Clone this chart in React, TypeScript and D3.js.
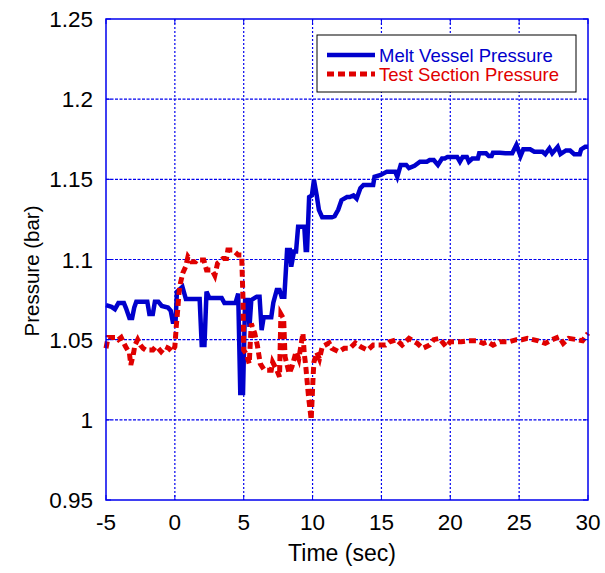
import React from "react";
import * as d3 from "d3";

const meltTime = [-5.0,-4.6,-4.35,-4.1,-3.7,-3.55,-3.3,-3.1,-2.95,-2.8,-2.0,-1.85,-1.6,-1.45,-1.2,-0.95,-0.5,-0.3,-0.15,0.05,0.15,0.55,0.8,1.8,1.95,2.15,2.3,2.5,3.4,3.6,4.4,4.6,4.75,4.95,5.1,5.3,5.42,5.55,5.95,6.15,6.3,6.45,7.0,7.15,7.4,7.6,7.75,7.95,8.15,8.35,8.45,8.65,8.8,8.95,9.4,9.5,9.6,9.75,9.95,10.1,10.3,10.46,10.7,11.4,11.6,11.86,12.1,12.5,12.7,12.97,13.2,13.47,13.7,14.4,14.5,14.95,15.4,16.0,16.15,16.4,16.8,17.0,17.4,17.8,18.3,18.5,18.8,19.1,19.4,19.6,19.8,20.5,20.7,20.9,21.2,21.35,21.6,22.0,22.1,22.6,22.8,23.0,23.1,23.6,24.0,24.5,24.8,25.1,25.3,25.8,26.1,26.7,26.9,27.2,27.4,27.8,28.0,28.4,28.7,29.0,29.4,29.5,29.8,30.0];
const meltPressure = [1.0716,1.0705,1.069,1.0728,1.0728,1.0697,1.0635,1.0635,1.07,1.0737,1.0737,1.066,1.066,1.0737,1.0737,1.071,1.07,1.068,1.0612,1.0612,1.0799,1.083,1.0753,1.0753,1.0466,1.0466,1.08,1.076,1.076,1.0728,1.0728,1.0787,1.0167,1.0167,1.0747,1.0747,1.058,1.0747,1.0768,1.0768,1.056,1.064,1.064,1.073,1.081,1.081,1.0768,1.0768,1.106,1.106,1.0955,1.105,1.105,1.1204,1.1204,1.106,1.106,1.139,1.14,1.1496,1.14,1.131,1.1263,1.1263,1.127,1.131,1.137,1.139,1.139,1.14,1.138,1.1444,1.1465,1.1465,1.1516,1.1527,1.1548,1.1548,1.1516,1.159,1.159,1.157,1.1585,1.161,1.161,1.162,1.162,1.159,1.163,1.163,1.164,1.164,1.161,1.164,1.164,1.161,1.163,1.163,1.1662,1.1662,1.1645,1.1645,1.1666,1.1666,1.1662,1.1662,1.1714,1.1645,1.1687,1.1687,1.1672,1.1672,1.1657,1.1693,1.1662,1.1703,1.1657,1.168,1.168,1.1657,1.1657,1.1687,1.1703,1.1703];

const testTime = [-5.0,-4.85,-4.3,-4.1,-3.9,-3.6,-3.3,-3.2,-3.0,-2.9,-2.7,-2.5,-2.3,-2.1,-1.6,-1.4,-1.2,-1.0,-0.7,-0.45,-0.2,0.0,0.1,0.2,0.3,0.4,0.57,0.78,0.95,1.2,1.5,1.6,2.1,2.3,2.7,2.9,3.1,3.5,3.75,3.85,4.2,4.6,4.85,4.95,5.0,5.2,5.4,5.55,5.8,6.0,6.2,6.5,7.0,7.1,7.4,7.6,7.7,7.9,8.0,8.3,8.5,8.8,9.0,9.3,9.4,9.5,9.7,9.9,10.05,10.1,10.3,10.5,10.7,11.2,11.4,11.9,12.3,12.7,13.1,13.5,14.0,14.4,14.8,15.3,15.6,16.1,16.5,17.0,17.6,18.0,18.5,18.8,19.2,19.7,20.0,20.4,20.8,21.3,21.9,22.4,22.7,23.1,23.6,24.3,24.8,25.2,25.6,26.4,26.9,27.4,27.9,28.2,28.6,29.2,29.6,30.0];
const testPressure = [1.0446,1.0514,1.0514,1.05,1.0514,1.046,1.0416,1.0342,1.0416,1.0466,1.05,1.0466,1.0446,1.0435,1.0435,1.0456,1.0446,1.0425,1.0456,1.0446,1.0425,1.0456,1.058,1.068,1.079,1.085,1.0914,1.0955,1.1017,1.0986,1.0986,1.0997,1.0997,1.0934,1.0934,1.09,1.0976,1.1007,1.1007,1.1059,1.1059,1.1028,1.1028,1.075,1.0435,1.041,1.035,1.06,1.054,1.046,1.035,1.031,1.031,1.036,1.031,1.0269,1.066,1.063,1.0394,1.029,1.033,1.0425,1.038,1.054,1.041,1.034,1.015,1.0,1.029,1.036,1.042,1.038,1.0456,1.048,1.0446,1.0425,1.0446,1.0446,1.048,1.0456,1.0435,1.0466,1.0466,1.0466,1.0487,1.05,1.0466,1.0508,1.0477,1.0446,1.0466,1.05,1.0508,1.0456,1.0487,1.0487,1.0487,1.0493,1.0493,1.0477,1.0487,1.0466,1.0487,1.0487,1.05,1.05,1.0508,1.0493,1.0477,1.05,1.0518,1.0477,1.0508,1.05,1.0493,1.054];

const xTicks = [-5, 0, 5, 10, 15, 20, 25, 30];
const yTicks = [0.95, 1, 1.05, 1.1, 1.15, 1.2, 1.25];
const yTickLabels = ["0.95", "1", "1.05", "1.1", "1.15", "1.2", "1.25"];
const seriesNames = ["Melt Vessel Pressure", "Test Section Pressure"];

const W = 605, H = 573;
const L = 106, R = 588, T = 19, B = 500;
const AX = "#0000ee";
const BLUE = "#0000cc";
const RED = "#e00000";
const FONT = "Liberation Sans, Arial, sans-serif";

export default function App() {
  const x = d3.scaleLinear().domain([-5, 30]).range([L, R]);
  const y = d3.scaleLinear().domain([0.95, 1.25]).range([B, T]);
  const line = d3.line<[number, number]>().x(d => x(d[0])).y(d => y(d[1]));
  const melt = meltTime.map((t, i) => [t, meltPressure[i]] as [number, number]);
  const test = testTime.map((t, i) => [t, testPressure[i]] as [number, number]);

  return (
    <svg width={W} height={H} style={{ position: "absolute", left: 0, top: 0, background: "#fff" }} fontFamily={FONT}>
      <rect x={0} y={0} width={W} height={H} fill="#fff" />
      {/* grid */}
      {xTicks.slice(1, -1).map(t => (
        <line key={"gx" + t} x1={x(t)} x2={x(t)} y1={T} y2={B} stroke={AX} strokeWidth={1.2} strokeDasharray="2,2" />
      ))}
      {yTicks.slice(1, -1).map(t => (
        <line key={"gy" + t} x1={L} x2={R} y1={y(t)} y2={y(t)} stroke={AX} strokeWidth={1.2} strokeDasharray="3,1.5" />
      ))}
      {/* data */}
      <path d={line(melt) || ""} fill="none" stroke={BLUE} strokeWidth={4.5} strokeLinejoin="miter" />
      <path d={line(test) || ""} fill="none" stroke={RED} strokeWidth={5} strokeDasharray="7,4" />
      {/* frame */}
      <rect x={L} y={T} width={R - L} height={B - T} fill="none" stroke={AX} strokeWidth={1.5} />
      {/* ticks */}
      {xTicks.map(t => (
        <g key={"tx" + t}>
          <line x1={x(t)} x2={x(t)} y1={B} y2={B - 5} stroke={AX} strokeWidth={1} />
          <line x1={x(t)} x2={x(t)} y1={T} y2={T + 5} stroke={AX} strokeWidth={1} />
          <text x={x(t)} y={530} textAnchor="middle" fontSize={22.5} fill="#000">{t}</text>
        </g>
      ))}
      {yTicks.map((t, i) => (
        <g key={"ty" + t}>
          <line x1={L} x2={L + 5} y1={y(t)} y2={y(t)} stroke={AX} strokeWidth={1} />
          <line x1={R} x2={R - 5} y1={y(t)} y2={y(t)} stroke={AX} strokeWidth={1} />
          <text x={93} y={y(t)} dy="0.36em" textAnchor="end" fontSize={22.5} fill="#000">{yTickLabels[i]}</text>
        </g>
      ))}
      <text x={342} y={561} textAnchor="middle" fontSize={23} fill="#000">Time (sec)</text>
      <text transform={`translate(39,271) rotate(-90)`} textAnchor="middle" fontSize={20.5} fill="#000">Pressure (bar)</text>
      {/* legend */}
      <rect x={317} y={35} width={259} height={57} fill="#fff" stroke="#000" strokeWidth={1} />
      <line x1={327} x2={375} y1={55} y2={55} stroke={BLUE} strokeWidth={4.5} />
      <line x1={327} x2={375} y1={74} y2={74} stroke={RED} strokeWidth={5} strokeDasharray="7,4" />
      <text x={379} y={62} fontSize={18.5} fill={BLUE}>{seriesNames[0]}</text>
      <text x={379} y={81} fontSize={18.5} fill={RED}>{seriesNames[1]}</text>
    </svg>
  );
}
